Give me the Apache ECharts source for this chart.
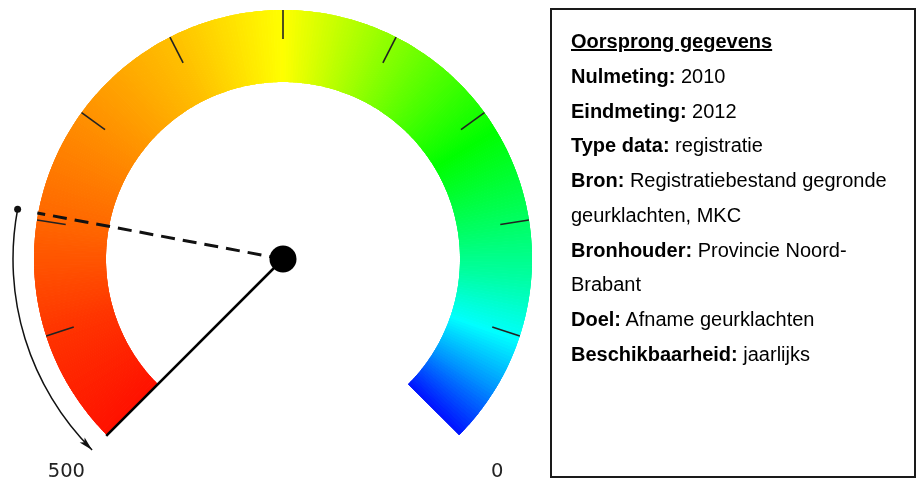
<!DOCTYPE html>
<html>
<head>
<meta charset="utf-8">
<script src="https://cdn.jsdelivr.net/npm/echarts@6/dist/echarts.min.js"></script>
<style>
  html, body { margin: 0; padding: 0; background: #fff; }
  #wrap { position: relative; width: 917px; height: 481px; }
  #chart { position: absolute; left: 0; top: 0; width: 917px; height: 481px; }
  #info {
    position: absolute; left: 550px; top: 8px; width: 366px; height: 470px;
    box-sizing: border-box; border: 2px solid #1a1a1a;
    padding: 14px 0 0 19px;
    font-family: "Liberation Sans", Arial, sans-serif; font-size: 20px; line-height: 34.75px; color: #000;
    white-space: nowrap;
  }
  #info b { font-weight: bold; }
</style>
</head>
<body>
<div id="wrap">
  <div id="chart"></div>
  <div id="info"></div>
</div>
<script>
// schaal van de meter
const scaleRange = [0, 500]
const tickLabels = [0, 500]
const splitCount = 10
// naalden: doorgetrokken = nulmeting, gestippeld = eindmeting
const solidNeedle = [500]
const dashedNeedle = [397]
// pijl langs de buitenkant
const arrowRange = [397, 500]

// tekstvak
const infoTitle = 'Oorsprong gegevens'
const infoRows = [
  ['Nulmeting:', ' 2010'],
  ['Eindmeting:', ' 2012'],
  ['Type data:', ' registratie'],
  ['Bron:', ' Registratiebestand gegronde'],
  ['', 'geurklachten, MKC'],
  ['Bronhouder:', ' Provincie Noord-'],
  ['', 'Brabant'],
  ['Doel:', ' Afname geurklachten'],
  ['Beschikbaarheid:', ' jaarlijks']
]

document.getElementById('info').innerHTML =
  '<u><b>' + infoTitle + '</b></u><br>' +
  infoRows.map(r => (r[0] ? '<b>' + r[0] + '</b>' : '') + r[1]).join('<br>')

// kleurverloop van blauw (0) naar rood (500), tinten per fractie
const hueStops = [
  [0, 236], [0.05, 205], [0.1, 178], [0.15, 158], [0.2, 143], [0.3, 115],
  [0.4, 88], [0.5, 60], [0.6, 45], [0.7, 34], [0.8, 24], [0.9, 12], [1, 4]
]
function hueAt(t) {
  for (let i = 1; i < hueStops.length; i++) {
    if (t <= hueStops[i][0]) {
      const a = hueStops[i - 1], b = hueStops[i]
      return a[1] + (b[1] - a[1]) * (t - a[0]) / (b[0] - a[0])
    }
  }
  return hueStops[hueStops.length - 1][1]
}
const bandColors = []
const steps = 360
for (let i = 1; i <= steps; i++) {
  const t = i / steps
  bandColors.push([t, 'hsl(' + hueAt(t - 0.5 / steps).toFixed(1) + ',100%,50%)'])
}

const center = [283, 259]
const needleLen = 250
const startAngle = -45, endAngle = 225
// hoek van een waarde op de meter (voor de binnenste streepjes zonder eindstreep)
const angleOf = v => startAngle + (v - scaleRange[0]) / (scaleRange[1] - scaleRange[0]) * (endAngle - startAngle)
const step = (scaleRange[1] - scaleRange[0]) / splitCount

const hidden = {
  axisTick: { show: false },
  axisLabel: { show: false },
  anchor: { show: false },
  title: { show: false },
  detail: { show: false }
}

// band meerdere keren tekenen zodat naden tussen segmenten verdwijnen
const bandLayers = [0, 1, 2].map(i => Object.assign({
  type: 'gauge',
  center: center,
  radius: 249,
  startAngle: startAngle,
  endAngle: endAngle,
  clockwise: false,
  min: scaleRange[0],
  max: scaleRange[1],
  z: 2,
  axisLine: { lineStyle: { width: 72, color: bandColors } },
  splitLine: { show: false },
  pointer: { show: false },
  data: []
}, hidden))

const chart = echarts.init(document.getElementById('chart'))
chart.setOption({
  animation: false,
  backgroundColor: '#fff',
  polar: { center: center, radius: 270 },
  angleAxis: {
    type: 'value',
    min: scaleRange[0],
    max: scaleRange[1] * 360 / 270,
    interval: scaleRange[1],
    startAngle: startAngle,
    clockwise: false,
    axisLine: { show: false },
    axisTick: { show: false },
    splitLine: { show: false },
    axisLabel: {
      margin: 10,
      padding: [5, 0, 0, 10],
      color: '#222',
      fontFamily: 'DejaVu Sans',
      fontSize: 19.5,
      formatter: v => (tickLabels.indexOf(v) >= 0 ? String(v) : '')
    }
  },
  radiusAxis: { type: 'value', min: 0, max: 270, show: false },
  series: bandLayers.concat([
    // streepjes binnen de band
    Object.assign({
      type: 'gauge',
      center: center,
      radius: 249,
      startAngle: angleOf(scaleRange[0] + step),
      endAngle: angleOf(scaleRange[1] - step),
      clockwise: false,
      min: scaleRange[0] + step,
      max: scaleRange[1] - step,
      splitNumber: splitCount - 2,
      z: 3,
      axisLine: { show: false, lineStyle: { width: 72 } },
      splitLine: { distance: -72, length: 29, lineStyle: { color: '#222', width: 1.6 } },
      pointer: { show: false },
      data: []
    }, hidden),
    // boog met pijlpunt
    Object.assign({
      type: 'gauge',
      center: center,
      radius: 270.75,
      startAngle: startAngle,
      endAngle: endAngle,
      clockwise: false,
      min: scaleRange[0],
      max: scaleRange[1],
      z: 3,
      axisLine: {
        lineStyle: {
          width: 1.5,
          color: [[arrowRange[0] / scaleRange[1], 'rgba(0,0,0,0)'], [1, '#111']]
        }
      },
      splitLine: { show: false },
      pointer: { icon: 'path://M0,3.5L14,0L11,3.5L14,7Z', length: 7, width: 14, offsetCenter: [7, -266.5] },
      itemStyle: { color: '#111' },
      data: [arrowRange[1]]
    }, hidden),
    {
      type: 'scatter',
      coordinateSystem: 'polar',
      z: 4,
      symbolSize: 7,
      itemStyle: { color: '#111', opacity: 1 },
      data: [[270, arrowRange[0]]]
    },
    {
      type: 'line',
      coordinateSystem: 'polar',
      z: 4,
      showSymbol: false,
      lineStyle: { color: '#000', width: 2.5 },
      data: [[0, solidNeedle[0]], [needleLen, solidNeedle[0]]]
    },
    {
      type: 'line',
      coordinateSystem: 'polar',
      z: 4,
      showSymbol: false,
      lineStyle: { color: '#111', width: 3, type: [14, 8] },
      data: [[0, dashedNeedle[0]], [needleLen, dashedNeedle[0]]]
    },
    {
      type: 'scatter',
      coordinateSystem: 'polar',
      z: 5,
      symbolSize: 27,
      itemStyle: { color: '#000', opacity: 1 },
      data: [[0, 0]]
    }
  ])
})
</script>
</body>
</html>
